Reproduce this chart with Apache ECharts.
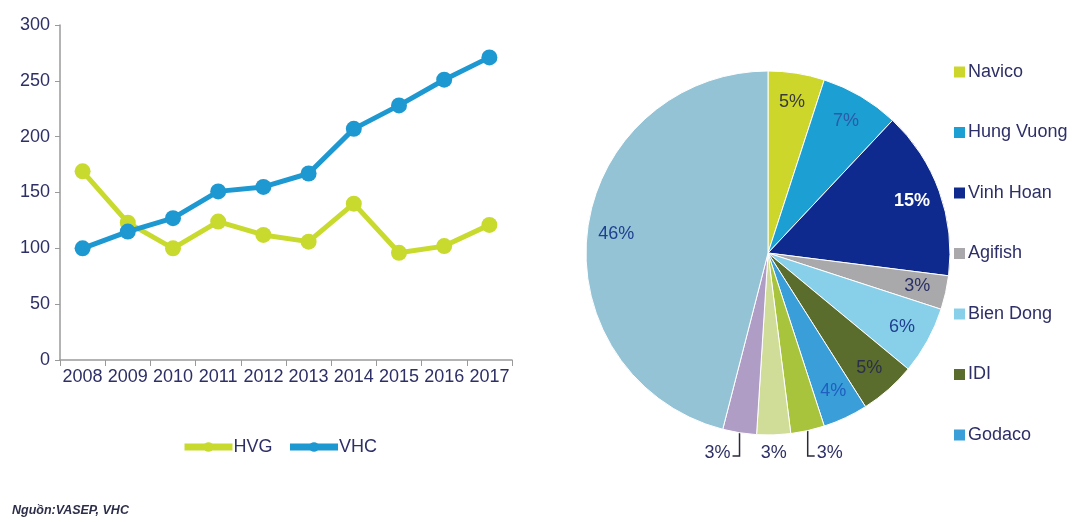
<!DOCTYPE html>
<html>
<head>
<meta charset="utf-8">
<script src="https://cdn.jsdelivr.net/npm/echarts@6/dist/echarts.min.js"></script>
<style>
html,body{margin:0;padding:0;background:#fff;}
#chart{width:1083px;height:522px;}
</style>
</head>
<body>
<div id="chart"></div>
<script>
var years = ['2008','2009','2010','2011','2012','2013','2014','2015','2016','2017'];
var hvgValues = [169, 123, 100, 124, 112, 106, 140, 96, 102, 121];
var vhcValues = [100, 115, 127, 151, 155, 167, 207, 228, 251, 271];
var yTicks = [0, 50, 100, 150, 200, 250, 300];

var pieNames = ['Navico','Hung Vuong','Vinh Hoan','Agifish','Bien Dong','IDI','Godaco','Khác 1','Khác 2','Khác 3','Khác'];
var pieValues = [5, 7, 15, 3, 6, 5, 4, 3, 3, 3, 46];
var pieColors = ['#cdd62b','#1c9fd2','#0f2a8e','#a9a9ab','#88d0ea','#5b6d2c','#3a9ed8','#a8c33c','#d0dd98','#b09dc6','#94c3d6'];
var pieLabelColors = ['#3a3a3a','#2c5aa8','#ffffff','#2a2f66','#1f3f8f','#2a2f4a','#1f5fbf','#2a2f66','#2a2f66','#2a2f66','#1f3f8f'];
var pieLegendNames = ['Navico','Hung Vuong','Vinh Hoan','Agifish','Bien Dong','IDI','Godaco'];
var outsideIdx = [7, 8, 9];
// leader style per outside label: 'right' = elbow to right, 'none' = no line, 'left' = elbow to left
var outsideStyle = {7: 'right', 8: 'none', 9: 'left'};

var textColor = '#2d2f66';
var font = 'Liberation Sans, Arial, sans-serif';
var pieCenter = [768, 253];
var pieRadius = 182;

var mainPieData = pieNames.map(function(n, i){
  var isOut = outsideIdx.indexOf(i) >= 0;
  return {
    name: n, value: pieValues[i],
    itemStyle: {color: pieColors[i]},
    label: {show: isOut},
    labelLine: {show: isOut && outsideStyle[i] !== 'none'}
  };
});
var overlayPieData = pieNames.map(function(n, i){
  var isOut = outsideIdx.indexOf(i) >= 0;
  return {
    name: n, value: pieValues[i],
    itemStyle: {color: 'rgba(0,0,0,0)'},
    label: {show: !isOut, color: pieLabelColors[i], fontWeight: i === 2 ? 'bold' : 'normal'}
  };
});

function outsideLayout(params) {
  var st = outsideStyle[params.dataIndex];
  if (!st || !params.labelLinePoints) return {};
  var p0 = params.labelLinePoints[0];
  var yLab = pieCenter[1] + pieRadius + 18;
  if (st === 'none') {
    return {x: p0[0], y: yLab, align: 'center', verticalAlign: 'middle'};
  }
  if (st === 'left') {
    return {
      x: p0[0] - 9, y: yLab, align: 'right', verticalAlign: 'middle',
      labelLinePoints: [p0, [p0[0], yLab + 3], [p0[0] - 7, yLab + 3]]
    };
  }
  return {
    x: p0[0] + 9, y: yLab, align: 'left', verticalAlign: 'middle',
    labelLinePoints: [p0, [p0[0], yLab + 3], [p0[0] + 7, yLab + 3]]
  };
}

var chart = echarts.init(document.getElementById('chart'), null, {renderer: 'canvas'});
chart.setOption({
  animation: false,
  backgroundColor: '#ffffff',
  textStyle: {fontFamily: font},
  grid: {left: 60, right: 571, top: 25, bottom: 162, containLabel: false},
  legend: [
    {
      data: ['HVG', 'VHC'],
      left: 176, top: 433,
      itemWidth: 48, itemHeight: 12, itemGap: 14,
      lineStyle: {width: 7},
      textStyle: {color: textColor, fontSize: 18, fontFamily: font, padding: [0,0,0,-4]}
    },
    {
      data: pieLegendNames,
      orient: 'vertical',
      left: 947, top: 58,
      itemWidth: 13, itemHeight: 13, itemGap: 42.5,
      icon: 'rect',
      textStyle: {color: textColor, fontSize: 18, lineHeight: 18, fontFamily: font, padding: [0,0,0,-3]}
    }
  ],
  xAxis: {
    type: 'category',
    data: years,
    boundaryGap: true,
    axisLine: {show: true, lineStyle: {color: '#9a9a9a', width: 1.5}},
    axisTick: {show: true, length: 6, lineStyle: {color: '#9a9a9a'}},
    axisLabel: {color: textColor, fontSize: 18, margin: 8, interval: 0, fontFamily: font}
  },
  yAxis: {
    type: 'value',
    min: yTicks[0], max: yTicks[yTicks.length - 1], interval: 50,
    axisLine: {show: true, lineStyle: {color: '#9a9a9a', width: 1.5}},
    axisTick: {show: true, length: 5, lineStyle: {color: '#9a9a9a'}},
    splitLine: {show: false},
    axisLabel: {color: textColor, fontSize: 18, margin: 10, fontFamily: font}
  },
  series: [
    {
      name: 'HVG', type: 'line', data: hvgValues,
      symbol: 'circle', symbolSize: 16,
      lineStyle: {width: 5, color: '#c8da2e'},
      itemStyle: {color: '#c8da2e'},
      z: 2
    },
    {
      name: 'VHC', type: 'line', data: vhcValues,
      symbol: 'circle', symbolSize: 16,
      lineStyle: {width: 5, color: '#1e98d0'},
      itemStyle: {color: '#1e98d0'},
      z: 3
    },
    {
      name: 'share', type: 'pie',
      center: pieCenter, radius: [0, pieRadius],
      startAngle: 90, clockwise: true,
      avoidLabelOverlap: false,
      itemStyle: {borderColor: '#ffffff', borderWidth: 1},
      label: {position: 'outside', formatter: '{c}%', color: textColor, fontSize: 18, fontFamily: font},
      labelLine: {length: 10, length2: 6, lineStyle: {color: '#2a2a3a', width: 1.5}},
      labelLayout: outsideLayout,
      emphasis: {disabled: true},
      data: mainPieData
    },
    {
      name: 'shareLabels', type: 'pie',
      center: pieCenter, radius: [0, 300],
      startAngle: 90, clockwise: true,
      silent: true,
      avoidLabelOverlap: false,
      label: {position: 'inside', formatter: '{c}%', fontSize: 18, fontFamily: font},
      labelLine: {show: false},
      emphasis: {disabled: true},
      data: overlayPieData,
      z: 5
    }
  ],
  graphic: [
    {
      type: 'text', left: 12, top: 504,
      style: {text: 'Nguồn:VASEP, VHC', fill: '#2d2f4a', font: 'italic bold 12.5px ' + font}
    }
  ]
});
</script>
</body>
</html>
